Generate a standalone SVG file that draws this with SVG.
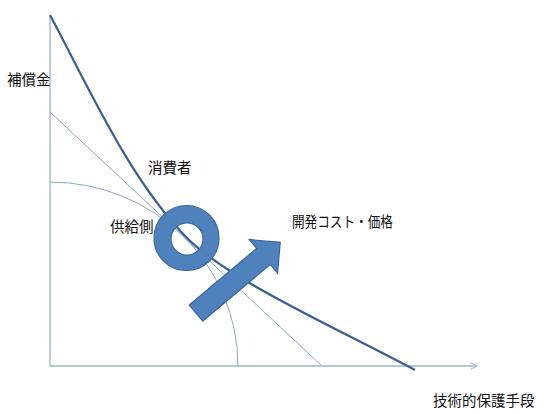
<svg xmlns="http://www.w3.org/2000/svg" width="545" height="414" viewBox="0 0 545 414">
<style>
.lbl{font-family:"Noto Sans CJK JP","Noto Sans CJK SC",sans-serif;font-size:14.5px;fill:#111}
.axis{stroke:#9fb4cf;stroke-width:1.3;fill:none}
.thin{stroke:#8fa6c4;stroke-width:1;fill:none}
.main{stroke:#3b5e93;stroke-width:2.2;fill:none}
.shape{fill:#4f81bd;stroke:#3a679e;stroke-width:1.2}
</style>
<defs>
<marker id="open" viewBox="0 0 10 10" refX="9" refY="5" markerWidth="8" markerHeight="8" orient="auto" markerUnits="userSpaceOnUse">
<path d="M1,1 L9,5 L1,9" fill="none" stroke="#9fb4cf" stroke-width="1.3"/>
</marker>
</defs>
<g id="connectors">
<line class="axis" x1="50" y1="366" x2="477" y2="366" marker-end="url(#open)"/>
<line class="axis" x1="50" y1="366" x2="50" y2="16"/>
<line class="thin" x1="50" y1="112" x2="322" y2="366"/>
<path class="thin" d="M50,182 A188,184 0 0 1 238,366"/>
<path class="main" d="M50,15 C90,90 130,180 187,238 C230,280 320,320 415,370"/>
</g>
<g id="ring">
<path class="shape" fill-rule="evenodd" d="M219,238 A32.5,32.5 0 1 1 154,238 A32.5,32.5 0 1 1 219,238 Z M203,239 A16,16 0 1 0 171,239 A16,16 0 1 0 203,239 Z"/>
</g>
<g id="arrow">
<path class="shape" transform="translate(196,313) rotate(-40)" d="M0,-10.5 L88,-10.5 L88,-22 L110,0 L88,22 L88,10.5 L0,10.5 Z"/>
</g>
<g id="label-compensation"><text class="lbl" x="7" y="85">補償金</text></g>
<g id="label-consumer"><text class="lbl" x="148" y="173">消費者</text></g>
<g id="label-supplier"><text class="lbl" x="110" y="232">供給側</text></g>
<g id="label-cost"><text class="lbl" x="292" y="227" textLength="101" lengthAdjust="spacingAndGlyphs">開発コスト・価格</text></g>
<g id="label-tech"><text class="lbl" x="433" y="406">技術的保護手段</text></g>
</svg>
